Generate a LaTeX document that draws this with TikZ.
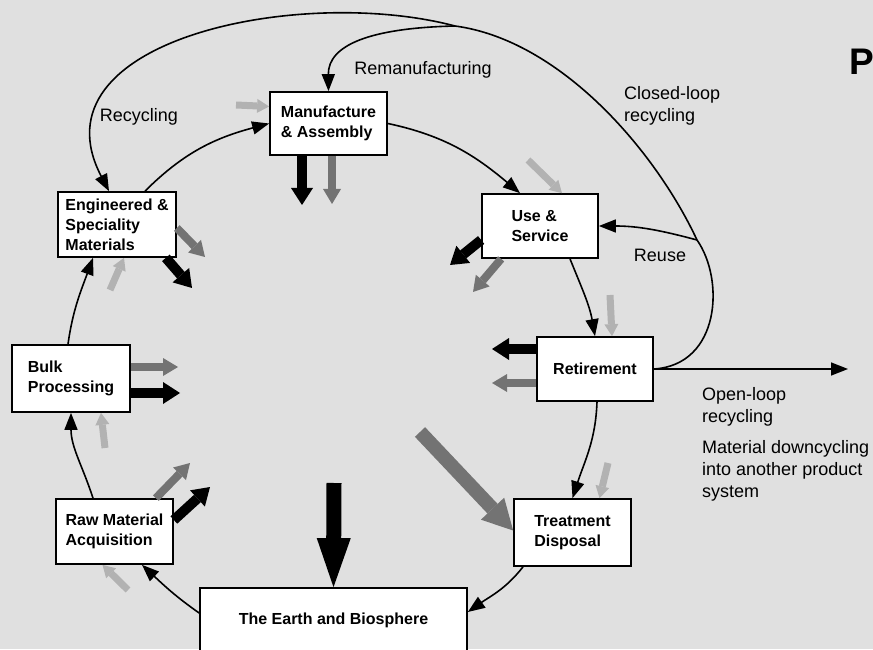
\documentclass[tikz,border=0pt]{standalone}
\usepackage{fontspec}
\setmainfont{Liberation Sans}
\usetikzlibrary{arrows.meta}

\begin{document}
\begin{tikzpicture}[x=1pt,y=1pt,
    box/.style={draw, line width=1.7pt, fill=white, align=left, inner sep=0pt,
        font=\fontsize{16}{20}\selectfont\bfseries},
    flow/.style={line width=1.6pt, -{Triangle[length=17pt,width=13pt]}},
    lbl/.style={align=left, inner sep=0pt, font=\fontsize{18}{22}\selectfont},
    blk/.style={line width=10pt, -{Triangle[length=17pt,width=22pt,line width=0pt]}},
    chk/.style={black!55, line width=8pt, -{Triangle[length=15pt,width=18pt,line width=0pt]}},
    lite/.style={black!30, line width=7pt, -{Triangle[length=12pt,width=14pt,line width=0pt]}}]

    \clip (0,0) rectangle (873,649);
    \fill[black!12] (0,0) rectangle (873,649);

    % stages of the life cycle
    \node[box, minimum width=117pt, minimum height=63pt] (man) at (328.5,525.5) {Manufacture\\\& Assembly};
    \node[box, minimum width=118pt, minimum height=65pt] (eng) at (117,424.5) {Engineered \&\\Speciality\\Materials};
    \node[box, minimum width=116pt, minimum height=64pt] (use) at (540,423) {Use \&\\Service};
    \node[box, minimum width=118pt, minimum height=67pt] (bulk) at (71,270.5) {Bulk\\Processing};
    \node[box, minimum width=116pt, minimum height=64pt] (ret) at (595,280) {Retirement};
    \node[box, minimum width=117pt, minimum height=65pt] (raw) at (114.5,117.5) {Raw Material\\Acquisition};
    \node[box, minimum width=117pt, minimum height=67pt] (treat) at (572.5,116.5) {Treatment\\Disposal};
    \node[box, minimum width=267pt, minimum height=64pt] (earth) at (333.5,29) {The Earth and Biosphere};

    % labels
    \node[lbl] (remanu) at (423,579) {Remanufacturing};
    \node[lbl] (recyc) at (139,532) {Recycling};
    \node[lbl, anchor=west] (closed) at (624,543) {Closed-loop\\recycling};
    \node[lbl] (reuse) at (660,394) {Reuse};
    \node[lbl, anchor=west] (openl) at (702,242.5) {Open-loop\\recycling};
    \node[lbl, anchor=west] (downc) at (702,178) {Material downcycling\\into another product\\system};
    \node[anchor=base west, inner sep=0pt, font=\fontsize{37}{37}\selectfont\bfseries] (pmark) at (849,574) {P};

    % main cycle
    \draw[flow] ([xshift=-21.5pt]raw.north) to[out=108,in=-90] (bulk.south);
    \draw[flow] ([xshift=-3pt]bulk.north) to[out=82,in=-110] ([xshift=-24pt]eng.south);
    \draw[flow] ([xshift=28pt]eng.north) to[out=45,in=195] (man.west);
    \draw[flow] (man.east) to[out=-12,in=140] ([xshift=-20pt]use.north);
    \draw[flow] ([xshift=30pt]use.south) to[out=-68,in=100] (ret.north);
    \draw[flow] ([xshift=2pt]ret.south) to[out=-92,in=72] (treat.north);
    \draw[flow] ([xshift=-49.5pt]treat.south) to[out=-128,in=35] ([yshift=8pt]earth.east);
    \draw[flow] ([yshift=7pt]earth.west) to[out=145,in=-43] ([xshift=27.5pt]raw.south);

    % loops back from retirement
    \coordinate (split1) at (697,409);
    \coordinate (split2) at (455,623);
    \coordinate (openend) at (848,280);
    \draw[line width=1.6pt] (ret.east) .. controls (720,284) and (725,369) .. (split1);
    \draw[line width=1.6pt] (split1) .. controls (655,499) and (560,609) .. (split2);
    \draw[flow] (split2) .. controls (300,664) and (30,609) .. ([xshift=-8pt]eng.north);
    \draw[flow] (split2) .. controls (370,621) and (328,604) .. (man.north);
    \draw[flow] (split1) to[out=165,in=0] (use.east);
    \draw[flow] (ret.east) -- (openend);

    % residues and inputs
    \coordinate (manblk) at (302,444);
    \coordinate (manchk) at (332,445);
    \coordinate (manin) at (236,544);
    \coordinate (engblk) at (192,361);
    \coordinate (engchk) at (205,392);
    \coordinate (engin) at (110,359);
    \coordinate (bulkblk) at (180,256);
    \coordinate (bulkchk) at (178,282);
    \coordinate (bulkin) at (105,201);
    \coordinate (rawblk) at (210,162);
    \coordinate (rawchk) at (190,186);
    \coordinate (rawin) at (128,59);
    \coordinate (useblk) at (450,384);
    \coordinate (usechk) at (473,357);
    \coordinate (usein) at (528,489);
    \coordinate (retblk) at (492,300);
    \coordinate (retchk) at (492,266);
    \coordinate (retin) at (610,354);
    \coordinate (treatin) at (608,186);
    \coordinate (treatchk) at (420,217);
    \coordinate (centre) at (334,166);

    \draw[blk] ([xshift=-26.5pt]man.south) -- (manblk);
    \draw[chk] ([xshift=3.5pt]man.south) -- (manchk);
    \draw[lite] (manin) -- ([yshift=17pt]man.west);
    \draw[blk] ([xshift=-11pt]eng.south east) -- (engblk);
    \draw[chk] ([yshift=-3.5pt]eng.east) -- (engchk);
    \draw[lite] (engin) -- ([xshift=7pt]eng.south);
    \draw[blk] ([yshift=-14.5pt]bulk.east) -- (bulkblk);
    \draw[chk] ([yshift=11.5pt]bulk.east) -- (bulkchk);
    \draw[lite] (bulkin) -- ([xshift=30pt]bulk.south);
    \draw[blk] ([yshift=11.5pt]raw.east) -- (rawblk);
    \draw[chk] ([xshift=-18pt]raw.north east) -- (rawchk);
    \draw[lite] (rawin) -- ([xshift=-12pt]raw.south);
    \draw[blk] ([yshift=-14pt]use.west) -- (useblk);
    \draw[chk] ([xshift=20pt]use.south west) -- (usechk);
    \draw[lite] (usein) -- ([xshift=22pt]use.north);
    \draw[blk] ([yshift=20pt]ret.west) -- (retblk);
    \draw[chk] ([yshift=-14pt]ret.west) -- (retchk);
    \draw[lite] (retin) -- ([xshift=17pt]ret.north);
    \draw[lite] (treatin) -- ([xshift=27pt]treat.north);
    \draw[chk, line width=14pt, -{Triangle[length=30pt,width=32pt,line width=0pt]}] (treatchk) -- ([yshift=2pt]treat.west);
    \draw[line width=15pt, -{Triangle[length=49pt,width=34pt,line width=0pt]}] (centre) -- (earth.north);
\end{tikzpicture}
\end{document}
